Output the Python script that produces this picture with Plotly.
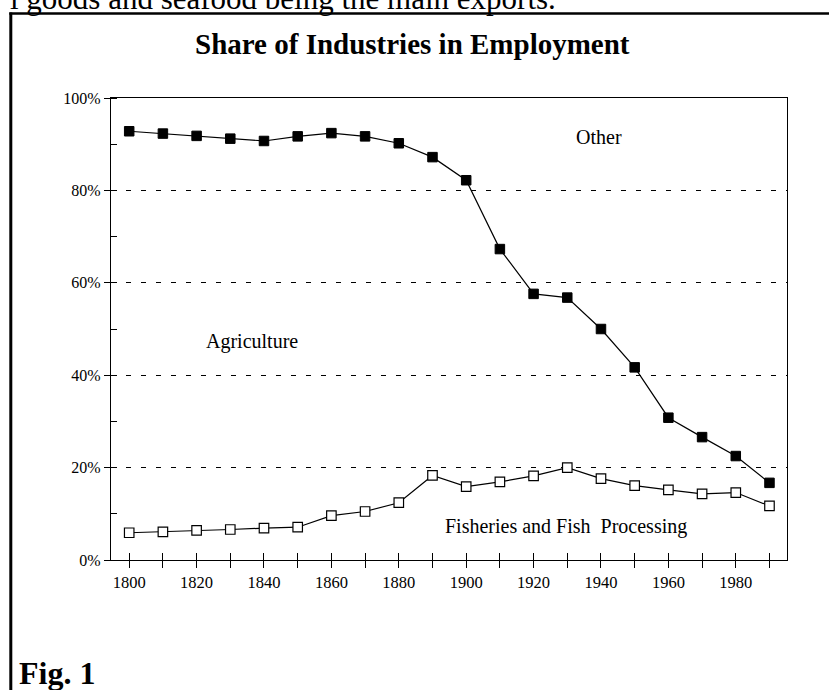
import plotly.graph_objects as go

years = [1800, 1810, 1820, 1830, 1840, 1850, 1860, 1870, 1880, 1890,
         1900, 1910, 1920, 1930, 1940, 1950, 1960, 1970, 1980, 1990]
# upper boundary: Agriculture + Fisheries (below) vs Other (above)
agri_upper = [92.8, 92.3, 91.8, 91.2, 90.7, 91.7, 92.4, 91.7, 90.2, 87.2,
              82.2, 67.3, 57.6, 56.8, 50.0, 41.7, 30.8, 26.6, 22.5, 16.7]
# fisheries and fish processing share
fish = [5.9, 6.1, 6.4, 6.6, 6.9, 7.1, 9.6, 10.5, 12.4, 18.3,
        15.9, 16.9, 18.2, 20.0, 17.6, 16.1, 15.2, 14.3, 14.6, 11.7]

title_text = "Share of Industries in Employment"
labels = [("Other", 1939.4, 91.5), ("Agriculture", 1836.3, 47.2),
          ("Fisheries and Fish\u00a0 Processing", 1929.5, 7.2)]

W, H = 829, 690
L, R, T, B = 111, 42, 97.5, 130
pw, ph = W - L - R, H - T - B


def px(x):
    return (x - L) / pw


def py(y):
    return (H - B - y) / ph


serif = "Liberation Serif, Times New Roman, serif"

fig = go.Figure()
fig.add_trace(go.Scatter(
    x=years, y=agri_upper, mode="lines+markers",
    line=dict(color="black", width=1.2),
    marker=dict(symbol="square", size=9.5, color="black",
                line=dict(color="black", width=1)),
    hoverinfo="x+y", showlegend=False))
fig.add_trace(go.Scatter(
    x=years, y=fish, mode="lines+markers",
    line=dict(color="black", width=1.2),
    marker=dict(symbol="square", size=9.5, color="white",
                line=dict(color="black", width=1.2)),
    hoverinfo="x+y", showlegend=False))
# helper trace so the overlaying axis (inner tick marks) is drawn
fig.add_trace(go.Scatter(x=years[:1], y=[None], xaxis="x2",
                         mode="markers", showlegend=False, hoverinfo="skip"))

xr = [1794.6, 1995.2]
fig.update_layout(
    width=W, height=H,
    margin=dict(l=L, r=R, t=T, b=B),
    paper_bgcolor="white", plot_bgcolor="white",
    font=dict(family=serif, color="black", size=16),
    xaxis=dict(range=xr, tickmode="linear", tick0=1800, dtick=20,
               ticks="outside", ticklen=7, tickwidth=1, tickcolor="black",
               minor=dict(ticks="outside", dtick=10, tick0=1800, ticklen=7,
                          tickwidth=1, tickcolor="black", showgrid=False),
               showline=True, linecolor="black", linewidth=1.2, mirror=True,
               showgrid=False, zeroline=False,
               tickfont=dict(size=16.5, family=serif)),
    xaxis2=dict(range=xr, overlaying="x", anchor="y", side="bottom",
                tickmode="linear", tick0=1800, dtick=10,
                ticks="inside", ticklen=7, tickwidth=1, tickcolor="black",
                showticklabels=False, showline=False, showgrid=False,
                zeroline=False),
    yaxis=dict(range=[0, 100], tickmode="linear", tick0=0, dtick=20,
               ticksuffix="%", ticks="outside", ticklen=6, tickwidth=1,
               tickcolor="black",
               minor=dict(ticks="inside", dtick=10, tick0=0, ticklen=6,
                          tickwidth=1, tickcolor="black", showgrid=False),
               showline=True, linecolor="black", linewidth=1.2, mirror=True,
               showgrid=True, gridcolor="black", gridwidth=1,
               griddash="5px,10px", zeroline=False,
               tickfont=dict(size=16, family=serif)),
)

ann = []
for txt, x, y in labels:
    ann.append(dict(text=txt, x=x, y=y, xref="x", yref="y", showarrow=False,
                    font=dict(size=20, family=serif, color="black")))
ann.append(dict(text="<b>" + title_text + "</b>", x=px(412.5), y=py(43),
                xref="paper", yref="paper", showarrow=False,
                xanchor="center", yanchor="middle",
                font=dict(size=29, family=serif, color="black")))
ann.append(dict(text="<b>Fig. 1</b>", x=px(17), y=py(673),
                xref="paper", yref="paper", showarrow=False,
                xanchor="left", yanchor="middle",
                font=dict(size=32, family=serif, color="black")))
ann.append(dict(text="l goods and seafood being the main exports.",
                x=px(558), y=py(-2.5), xref="paper", yref="paper",
                showarrow=False, xanchor="right", yanchor="middle",
                font=dict(size=31, family=serif, color="black")))
fig.update_layout(annotations=ann)

fig.add_shape(type="line", xref="paper", yref="paper",
              x0=px(10.8), x1=px(10.8), y0=py(12), y1=py(700),
              line=dict(color="black", width=3))
fig.add_shape(type="line", xref="paper", yref="paper",
              x0=px(9.3), x1=px(840), y0=py(13), y1=py(13),
              line=dict(color="black", width=2.5))

fig.write_html("out.html",
               config={"displayModeBar": False},
               post_script="document.body.style.margin='0px';"
                           "document.body.style.overflow='hidden';")
